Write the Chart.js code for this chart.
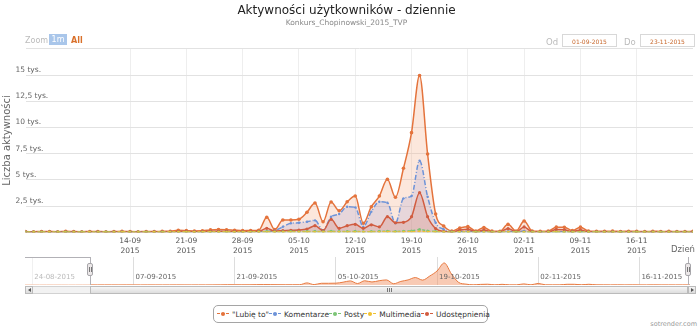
<!DOCTYPE html>
<html>
<head>
<meta charset="utf-8">
<script src="https://cdn.jsdelivr.net/npm/chart.js@4.4.0/dist/chart.umd.min.js"></script>
<style>
  body { margin: 0; background: #fff; font-family: "DejaVu Sans", sans-serif; }
  #wrap { position: relative; width: 700px; height: 332px; overflow: hidden; }
  #mainChart { position: absolute; left: 0; top: 0; }
  #navChart { position: absolute; left: 25px; top: 257px; }
  .abs { position: absolute; }
  .zoomLbl { left: 25px; top: 36px; font-size: 8px; color: #bbb; }
  .btn1m { left: 49px; top: 34px; width: 18px; height: 11px; background: #a9c6ea; color: #fff; font-size: 8px; line-height: 11px; text-align: center; }
  .btnAll { left: 71px; top: 36px; font-size: 8px; font-weight: bold; color: #d9702a; }
  .dateLbl { top: 37px; font-size: 8.5px; color: #bbb; }
  .dateBox { top: 34px; width: 55px; height: 13px; border: 1px solid #d8d8d8; font-size: 6px; line-height: 13px; text-align: center; color: #c8692e; box-sizing: border-box; }
  .navMask { left: 25px; top: 257px; width: 65px; height: 28px; background: rgba(255,255,255,0.55); border-top: 1px solid #b2b1b6; box-sizing: border-box; }
  .navLine { top: 257px; width: 1px; height: 28px; background: #b2b1b6; }
  .handle { top: 263px; width: 6px; height: 13px; background: #ebe7e8; border: 1px solid #a8a7ab; border-radius: 2px; box-sizing: border-box; }
  .handle::before, .handle::after { content: ""; position: absolute; top: 3px; width: 1px; height: 5px; background: #777; }
  .handle::before { left: 1px; } .handle::after { left: 3px; }
  .track { left: 25px; top: 286px; width: 671px; height: 8px; background: #f2f2f2; border: 1px solid #d2d2d2; box-sizing: border-box; }
  .thumb { left: 90px; top: 286px; width: 598px; height: 8px; background: linear-gradient(#f6f6f6, #dedede); border: 1px solid #bbb; box-sizing: border-box; }
  .grip { top: 288px; width: 1px; height: 4px; background: #777; }
  .arrowBtn { top: 286px; width: 8px; height: 8px; background: linear-gradient(#f4f4f4, #dcdcdc); border: 1px solid #bbb; box-sizing: border-box; }
  .tri { position: absolute; top: 1px; width: 0; height: 0; border-top: 2.5px solid transparent; border-bottom: 2.5px solid transparent; }
  #legend { left: 213px; top: 305px; width: 275px; height: 18px; border: 1px solid #a5a5a5; border-radius: 5px; box-sizing: border-box; display: flex; align-items: center; justify-content: space-around; padding: 0 3px; font-size: 7.5px; color: #333; }
  .item { display: flex; align-items: center; white-space: nowrap; }
  .sym { position: relative; width: 12px; height: 6px; margin-right: 3px; }
  .sym .ln { position: absolute; left: 0; right: 0; top: 2px; height: 0; border-top-width: 1.5px; border-top-style: dashed; }
  .sym .dot { position: absolute; left: 4px; top: 1px; width: 4px; height: 4px; border-radius: 50%; }
  .mark { right: 3px; top: 320px; font-size: 6.5px; color: #999; }
</style>
</head>
<body>
<div id="wrap">
  <canvas id="mainChart" width="700" height="262"></canvas>
  <canvas id="navChart" width="665" height="28"></canvas>

  <div class="abs zoomLbl">Zoom</div>
  <div class="abs btn1m">1m</div>
  <div class="abs btnAll">All</div>
  <div class="abs dateLbl" style="left:546px">Od</div>
  <div class="abs dateBox" id="fromBox" style="left:562px"></div>
  <div class="abs dateLbl" style="left:624px">Do</div>
  <div class="abs dateBox" id="toBox" style="left:640px"></div>

  <div class="abs navMask"></div>
  <div class="abs navLine" style="left:90px"></div>
  <div class="abs navLine" style="left:688px"></div>
  <div class="abs handle" style="left:87px"></div>
  <div class="abs handle" style="left:685px"></div>

  <div class="abs track"></div>
  <div class="abs thumb"></div>
  <div class="abs grip" style="left:387px"></div>
  <div class="abs grip" style="left:389px"></div>
  <div class="abs grip" style="left:391px"></div>
  <div class="abs arrowBtn" style="left:25px"><span class="tri" style="left:2px;border-right:3px solid #555"></span></div>
  <div class="abs arrowBtn" style="left:688px"><span class="tri" style="left:2px;border-left:3px solid #555"></span></div>

  <div class="abs" id="legend"></div>
  <div class="abs mark">sotrender.com</div>
</div>

<script>
// Daily data 23-08-2015 .. 23-11-2015
const dayCount = 93
const pad = (n) => String(n).padStart(2, "0")
const days = []
for (let i = 0; i < dayCount; i++) {
  const d = new Date(2015, 7, 23 + i)
  days.push(pad(d.getDate()) + "-" + pad(d.getMonth() + 1) + "-" + d.getFullYear())
}

const rangeFrom = "01-09-2015"
const rangeTo = "23-11-2015"
const weekTicks = ["14-09-2015", "21-09-2015", "28-09-2015", "05-10-2015", "12-10-2015",
  "19-10-2015", "26-10-2015", "02-11-2015", "09-11-2015", "16-11-2015"]
const navTicks = ["24-08-2015", "07-09-2015", "21-09-2015", "05-10-2015", "19-10-2015", "02-11-2015", "16-11-2015"]
const yStep = 2500
const yMax = 17500

const seriesNames = ['"Lubię to"', "Komentarze", "Posty", "Multimedia", "Udostępnienia"]

const likes = [
  50, 60, 40, 70, 50, 60, 40, 50, 60,
  60, 50, 70, 60, 50, 80, 60, 50, 70, 60, 50, 60, 80, 60, 50, 70, 60, 80, 90,
  180, 150, 120, 130, 220, 260, 240, 190, 150, 160, 180,
  1420, 250, 1160, 1160, 1230, 1900, 2780, 1000, 2880, 2050, 2900, 3450, 850, 2430, 3450, 5050, 3330, 6100, 9500, 14950, 7460, 1740, 590,
  120, 400, 530, 120, 450, 100, 90, 750, 100, 1070, 120, 90, 100, 480, 470, 150, 480, 120,
  90, 80, 100, 70, 90, 80, 60, 90, 70, 80, 60, 70, 80
]
const comments = [
  20, 30, 20, 30, 20, 30, 20, 20, 30,
  30, 20, 30, 40, 20, 30, 30, 20, 40, 30, 20, 30, 40, 30, 20, 30, 40, 30, 40,
  50, 60, 40, 50, 60, 70, 60, 50, 40, 50, 60,
  80, 150, 525, 850, 900, 1000, 1130, 180, 1480, 1740, 2430, 2370, 525, 1960, 2910, 2815, 850, 3230, 3450, 6820, 3390, 900, 280,
  40, 60, 100, 30, 60, 30, 20, 80, 30, 110, 30, 20, 30, 60, 50, 30, 50, 30,
  20, 30, 20, 30, 20, 30, 20, 20, 30, 20, 30, 20, 30
]
const posts = [
  10, 15, 10, 15, 10, 15, 10, 10, 15,
  15, 10, 15, 20, 10, 15, 15, 10, 20, 15, 10, 15, 20, 15, 10, 15, 20, 15, 20,
  20, 25, 20, 25, 30, 25, 20, 25, 20, 30, 40,
  60, 40, 50, 60, 50, 70, 80, 50, 90, 60, 70, 80, 40, 60, 80, 90, 60, 100, 120, 250, 120, 60, 30,
  15, 20, 20, 15, 20, 15, 10, 20, 15, 20, 15, 10, 15, 20, 15, 10, 15, 10,
  10, 15, 10, 15, 10, 15, 10, 10, 15, 10, 15, 10, 15
]
const multimedia = [
  5, 5, 5, 5, 5, 5, 5, 5, 5,
  5, 5, 5, 10, 5, 5, 5, 5, 10, 5, 5, 5, 10, 5, 5, 5, 10, 5, 10,
  10, 10, 10, 10, 15, 10, 10, 10, 10, 15, 15,
  20, 15, 20, 25, 20, 25, 30, 20, 30, 25, 25, 30, 15, 25, 30, 35, 25, 35, 40, 60, 40, 20, 10,
  5, 10, 10, 5, 10, 5, 5, 10, 5, 10, 5, 5, 5, 10, 5, 5, 5, 5,
  5, 5, 5, 5, 5, 5, 5, 5, 5, 5, 5, 5, 5
]
const shares = [
  20, 30, 20, 30, 20, 30, 20, 20, 30,
  30, 20, 30, 40, 20, 30, 30, 20, 40, 30, 20, 30, 40, 30, 20, 30, 40, 30, 40,
  60, 70, 50, 60, 80, 90, 80, 70, 60, 70, 80,
  370, 100, 150, 180, 200, 300, 620, 150, 1230, 370, 620, 750, 370, 700, 510, 1480, 900, 940, 1480, 3770, 1480, 350, 60,
  30, 200, 280, 40, 200, 30, 30, 350, 30, 500, 40, 30, 30, 250, 230, 60, 220, 40,
  30, 30, 20, 30, 20, 30, 20, 20, 30, 20, 30, 20, 30
]

const colors = {
  likes: "#e4733c",
  comments: "#6d93d8",
  posts: "#7cc576",
  multimedia: "#f0c234",
  shares: "#d15c40",
}

const toPoints = (arr) => arr.map((v, i) => ({ x: i, y: v }))

function makeSeries(label, data, color, fill, dash, radius, order) {
  return {
    label: label,
    data: toPoints(data),
    borderColor: color,
    backgroundColor: fill,
    pointBackgroundColor: color,
    pointBorderColor: color,
    pointRadius: radius,
    pointBorderWidth: 0,
    borderWidth: 1.5,
    borderDash: dash,
    fill: fill ? "origin" : false,
    cubicInterpolationMode: "monotone",
    order: order,
  }
}

document.getElementById("fromBox").textContent = rangeFrom
document.getElementById("toBox").textContent = rangeTo

// "Dzień" label at the right end of the x axis
const xTitlePlugin = {
  id: "xTitle",
  afterDraw(chart) {
    const ctx = chart.ctx
    ctx.save()
    ctx.font = "8.5px 'DejaVu Sans'"
    ctx.fillStyle = "#666"
    ctx.textAlign = "right"
    ctx.textBaseline = "middle"
    ctx.fillText("Dzień", chart.chartArea.right + 2, chart.chartArea.bottom + 18)
    ctx.restore()
  },
}

const mainChart = new Chart(document.getElementById("mainChart"), {
  type: "line",
  data: {
    datasets: [
      makeSeries(seriesNames[0], likes, colors.likes, "rgba(246, 175, 140, 0.3)", [], 1.8, 5),
      makeSeries(seriesNames[1], comments, colors.comments, "rgba(140, 140, 210, 0.18)", [5, 2, 1, 2], 1.2, 4),
      makeSeries(seriesNames[2], posts, colors.posts, null, [3, 2], 1.5, 2),
      makeSeries(seriesNames[3], multimedia, colors.multimedia, null, [3, 2], 1, 1),
      makeSeries(seriesNames[4], shares, colors.shares, "rgba(210, 110, 90, 0.22)", [], 1.6, 3),
    ],
  },
  options: {
    responsive: false,
    animation: false,
    layout: { padding: { left: 0, right: 7, top: 0, bottom: 1.8 } },
    plugins: {
      legend: { display: false },
      tooltip: { enabled: false },
      title: {
        display: true,
        text: "Aktywności użytkowników - dziennie",
        color: "#222",
        font: { family: "DejaVu Sans", size: 12, weight: "normal", lineHeight: 1.2 },
        padding: { top: 4, bottom: 0 },
      },
      subtitle: {
        display: true,
        text: "Konkurs_Chopinowski_2015_TVP",
        color: "#888",
        font: { family: "DejaVu Sans", size: 7.5, lineHeight: 1.2 },
        padding: { top: 0, bottom: 21.4 },
      },
    },
    scales: {
      x: {
        type: "linear",
        min: days.indexOf(rangeFrom),
        max: days.indexOf(rangeTo),
        afterBuildTicks: (axis) => {
          axis.ticks = weekTicks.map((t) => ({ value: days.indexOf(t) }))
        },
        grid: { color: "#eeeeee", drawTicks: false },
        border: { display: false },
        ticks: {
          autoSkip: false,
          maxRotation: 0,
          padding: 4,
          color: "#555",
          font: { family: "DejaVu Sans", size: 7.5, lineHeight: 1.333 },
          callback: (v) => {
            const s = days[v]
            return [s.slice(0, 5), s.slice(6)]
          },
        },
      },
      y: {
        min: 0,
        max: yMax,
        grid: { color: "#e2e2e2", drawTicks: false },
        border: { display: false },
        title: {
          display: true,
          text: "Liczba aktywności",
          color: "#666",
          font: { family: "DejaVu Sans", size: 10, lineHeight: 1.2 },
          // bottom padding also offsets the negative tick padding below
          padding: { top: 1, bottom: 32.5 },
        },
        ticks: {
          stepSize: yStep,
          mirror: true,
          padding: -10,
          labelOffset: -5,
          color: "#666",
          font: { family: "DejaVu Sans", size: 7.5 },
          callback: (v) => (v === 0 || v === yMax ? "" : String(v / 1000).replace(".", ",") + " tys."),
        },
      },
    },
  },
  plugins: [xTitlePlugin],
})

// navigator date labels
const navLabelsPlugin = {
  id: "navLabels",
  afterDraw(chart) {
    const ctx = chart.ctx
    const x = chart.scales.x
    ctx.save()
    ctx.font = "7px 'DejaVu Sans'"
    ctx.fillStyle = "#666"
    ctx.textBaseline = "middle"
    navTicks.forEach((t) => ctx.fillText(t, x.getPixelForValue(days.indexOf(t)) + 2, chart.chartArea.bottom - 8))
    ctx.restore()
  },
}

new Chart(document.getElementById("navChart"), {
  type: "line",
  data: {
    datasets: [
      {
        data: toPoints(likes),
        borderColor: "#e8793f",
        backgroundColor: "rgba(242, 150, 105, 0.5)",
        borderWidth: 1,
        pointRadius: 0,
        fill: "origin",
        cubicInterpolationMode: "monotone",
      },
    ],
  },
  options: {
    responsive: false,
    animation: false,
    layout: { padding: 0 },
    plugins: { legend: { display: false }, tooltip: { enabled: false } },
    scales: {
      x: {
        type: "linear",
        min: 0,
        max: dayCount - 1,
        afterBuildTicks: (axis) => {
          axis.ticks = navTicks.map((t) => ({ value: days.indexOf(t) }))
        },
        grid: { color: "#dddddd", drawTicks: false },
        border: { display: false },
        ticks: { display: false },
      },
      y: { display: false, min: 0, max: 19000 },
    },
  },
  plugins: [navLabelsPlugin],
})

// HTML legend built from the datasets
const legend = document.getElementById("legend")
mainChart.data.datasets.forEach((ds) => {
  const item = document.createElement("span")
  item.className = "item"
  const sym = document.createElement("span")
  sym.className = "sym"
  const ln = document.createElement("span")
  ln.className = "ln"
  ln.style.borderTopColor = ds.borderColor
  const dot = document.createElement("span")
  dot.className = "dot"
  dot.style.background = ds.borderColor
  sym.appendChild(ln)
  sym.appendChild(dot)
  item.appendChild(sym)
  item.appendChild(document.createTextNode(ds.label))
  legend.appendChild(item)
})
</script>
</body>
</html>
